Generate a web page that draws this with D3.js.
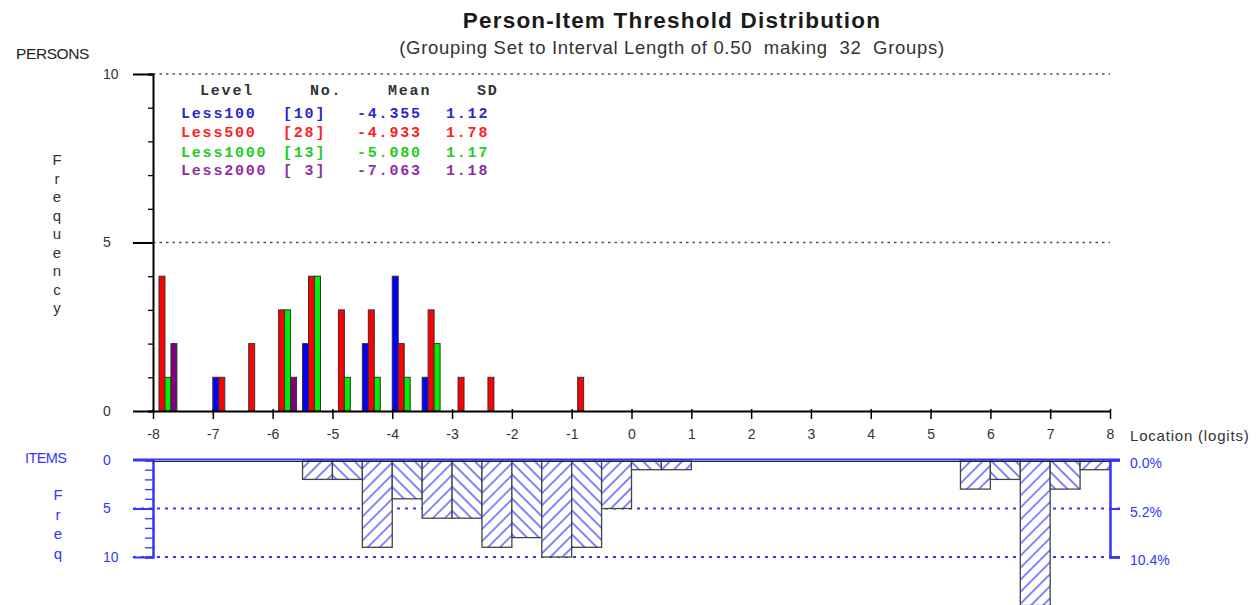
<!DOCTYPE html>
<html>
<head>
<meta charset="utf-8">
<script src="https://cdn.jsdelivr.net/npm/d3@7/dist/d3.min.js"></script>
<style>
    body { margin: 0; background: #fff; }
    svg { display: block; font-family: "Liberation Sans", Arial, sans-serif; }
</style>
</head>
<body>
<svg id="chart" width="1256" height="605"></svg>
<script>
// --- Data ---
const binStarts = d3.range(-8, 8, 0.5);   // 32 groups, interval length 0.50
const xTickValues = d3.range(-8, 9);

const less100  = [0,0,1,0,0,2,0,2,4,1,0,0,0,0,0,0, 0,0,0,0,0,0,0,0,0,0,0,0,0,0,0,0];
const less500  = [4,0,1,2,3,4,3,3,2,3,1,1,0,0,1,0, 0,0,0,0,0,0,0,0,0,0,0,0,0,0,0,0];
const less1000 = [1,0,0,0,3,4,1,1,1,2,0,0,0,0,0,0, 0,0,0,0,0,0,0,0,0,0,0,0,0,0,0,0];
const less2000 = [2,0,0,0,1,0,0,0,0,0,0,0,0,0,0,0, 0,0,0,0,0,0,0,0,0,0,0,0,0,0,0,0];
const items    = [0,0,0,0,0,2,2,9,4,6,6,9,8,10,9,5, 1,1,0,0,0,0,0,0,0,0,0,3,2,15,3,1];

const levels = ['Less100', 'Less500', 'Less1000', 'Less2000'];
const levelCounts = [10, 28, 13, 3];
const levelMeans = ['-4.355', '-4.933', '-5.080', '-7.063'];
const levelSDs = ['1.12', '1.78', '1.17', '1.18'];

const personSeries = [less100, less500, less1000, less2000];
const barColors = ['#0000ff', '#ff0000', '#00ee00', '#800080'];
const textColors = ['#2a2ac8', '#ff2020', '#22cc22', '#8f2f9f'];
const itemBlue = '#3535ff';

const svg = d3.select('#chart');

// --- Scales ---
const x = d3.scaleLinear().domain([-8, 8]).range([153, 1110]);
const yTop = d3.scaleLinear().domain([0, 10]).range([411, 74]);
const yBot = d3.scaleLinear().domain([0, 10]).range([460, 557]);
const subW = x(-7.9) - x(-8);

// --- Hatch patterns ---
const defs = svg.append('defs');
[['hatchA', 45], ['hatchB', -45]].forEach(([id, angle]) => {
    const p = defs.append('pattern')
        .attr('id', id)
        .attr('patternUnits', 'userSpaceOnUse')
        .attr('width', 8.5).attr('height', 8.5)
        .attr('patternTransform', `rotate(${angle})`);
    p.append('rect').attr('width', 8.5).attr('height', 8.5).attr('fill', '#fff');
    p.append('line').attr('x1', 1).attr('y1', 0).attr('x2', 1).attr('y2', 8.5)
        .attr('stroke', '#4545ff').attr('stroke-width', 1.3);
});

// --- Titles ---
svg.append('text')
    .attr('x', 672).attr('y', 28)
    .attr('text-anchor', 'middle')
    .attr('font-size', 22.5).attr('font-weight', 'bold')
    .attr('letter-spacing', 1.2)
    .attr('fill', '#1a1a1a')
    .text('Person-Item Threshold Distribution');

svg.append('text')
    .attr('x', 672).attr('y', 54)
    .attr('text-anchor', 'middle')
    .attr('font-size', 18.5).attr('letter-spacing', 0.7)
    .attr('fill', '#333')
    .attr('xml:space', 'preserve')
    .text('(Grouping Set to Interval Length of 0.50  making  32  Groups)');

svg.append('text')
    .attr('x', 16).attr('y', 59)
    .attr('font-size', 15.5).attr('letter-spacing', -0.4)
    .attr('fill', '#222')
    .text('PERSONS');

// vertical "Frequency"
svg.append('g').selectAll('text')
    .data('Frequency'.split(''))
    .enter().append('text')
    .attr('x', 57)
    .attr('y', (d, i) => 165 + i * 18.5)
    .attr('text-anchor', 'middle')
    .attr('font-size', 15)
    .attr('fill', '#333')
    .text(d => d);

// --- Upper gridlines (dotted) ---
svg.append('g').selectAll('line')
    .data([5, 10])
    .enter().append('line')
    .attr('x1', x(-8)).attr('x2', x(8))
    .attr('y1', d => yTop(d)).attr('y2', d => yTop(d))
    .attr('stroke', '#555').attr('stroke-width', 1.6)
    .attr('stroke-dasharray', '2.5,4');

// --- Person bars ---
const barsG = svg.append('g');
personSeries.forEach((series, si) => {
    barsG.selectAll(`.pbar-${si}`)
        .data(series.map((v, i) => ({ start: binStarts[i], v })).filter(d => d.v > 0))
        .enter().append('rect')
        .attr('class', `pbar-${si}`)
        .attr('x', d => x(d.start) + si * subW)
        .attr('y', d => yTop(d.v))
        .attr('width', subW)
        .attr('height', d => yTop(0) - yTop(d.v))
        .attr('fill', barColors[si])
        .attr('stroke', '#333').attr('stroke-width', 1);
});

// --- Upper left axis ---
const yTopMinor = svg.append('g')
    .attr('transform', `translate(${x(-8)},0)`)
    .call(d3.axisLeft(yTop).tickValues(d3.range(0, 11)).tickSize(5).tickFormat(''));
yTopMinor.select('.domain').attr('stroke', '#000').attr('stroke-width', 2);
yTopMinor.selectAll('.tick line').attr('stroke', '#000').attr('stroke-width', 1.3);

const yTopMajor = svg.append('g')
    .attr('transform', `translate(${x(-8)},0)`)
    .call(d3.axisLeft(yTop).tickValues([0, 5, 10]).tickSize(20).tickPadding(22));
yTopMajor.select('.domain').remove();
yTopMajor.selectAll('.tick line').attr('stroke', '#000').attr('stroke-width', 2);
yTopMajor.selectAll('.tick text')
    .attr('text-anchor', 'start').attr('x', -50)
    .attr('font-size', 14).attr('fill', '#333');

// --- X axis ---
const xAxisG = svg.append('g')
    .attr('transform', `translate(0,${yTop(0)})`)
    .call(d3.axisBottom(x).tickValues(xTickValues).tickSize(8).tickPadding(10)
        .tickSizeOuter(0).tickFormat(d => String(d)));
xAxisG.select('.domain').attr('stroke', '#000').attr('stroke-width', 2);
xAxisG.selectAll('.tick line').attr('stroke', '#000').attr('stroke-width', 1.5).attr('y1', -2);
xAxisG.selectAll('.tick text').attr('font-size', 14).attr('fill', '#333');

svg.append('text')
    .attr('x', 1130).attr('y', 441)
    .attr('font-size', 15).attr('letter-spacing', 0.8)
    .attr('fill', '#333')
    .text('Location (logits)');

// --- Legend ---
const legend = svg.append('g')
    .attr('font-family', '"Liberation Mono", "Courier New", monospace')
    .attr('font-size', 15).attr('font-weight', 'bold')
    .attr('letter-spacing', 1.8);
const legendCols = [
    { x: 181, head: 'Level', hx: 200, vals: levels },
    { x: 283, head: 'No.', hx: 310, vals: levelCounts.map(c => `[${String(c).padStart(2, ' ')}]`) },
    { x: 357, head: 'Mean', hx: 388, vals: levelMeans },
    { x: 446, head: 'SD', hx: 477, vals: levelSDs }
];
const rowY = [118, 137, 157, 175];
legendCols.forEach(col => {
    legend.append('text')
        .attr('x', col.hx).attr('y', 95)
        .attr('fill', '#333')
        .text(col.head);
    legend.selectAll(null)
        .data(col.vals)
        .enter().append('text')
        .attr('xml:space', 'preserve')
        .attr('x', col.x)
        .attr('y', (d, i) => rowY[i])
        .attr('fill', (d, i) => textColors[i])
        .text(d => d);
});

// --- Lower (items) panel ---
svg.append('text')
    .attr('x', 25).attr('y', 463)
    .attr('font-size', 14.5).attr('letter-spacing', -0.6)
    .attr('fill', itemBlue)
    .text('ITEMS');

svg.append('g').selectAll('text')
    .data('Freq'.split(''))
    .enter().append('text')
    .attr('x', 58)
    .attr('y', (d, i) => 500 + i * 19.5)
    .attr('text-anchor', 'middle')
    .attr('font-size', 15)
    .attr('fill', itemBlue)
    .text(d => d);

// dotted gridlines
svg.append('g').selectAll('line')
    .data([5, 10])
    .enter().append('line')
    .attr('x1', 133).attr('x2', 1120)
    .attr('y1', d => yBot(d)).attr('y2', d => yBot(d))
    .attr('stroke', itemBlue).attr('stroke-width', 1.8)
    .attr('stroke-dasharray', '3,5');

// item bars
svg.append('g').selectAll('rect')
    .data(items.map((v, i) => ({ start: binStarts[i], v, i })).filter(d => d.v > 0))
    .enter().append('rect')
    .attr('x', d => x(d.start))
    .attr('y', yBot(0))
    .attr('width', d => x(d.start + 0.5) - x(d.start))
    .attr('height', d => yBot(d.v) - yBot(0))
    .attr('fill', d => d.i % 2 ? 'url(#hatchA)' : 'url(#hatchB)')
    .attr('stroke', '#444').attr('stroke-width', 1.3);

// lower left axis
const yBotMinor = svg.append('g')
    .attr('transform', `translate(${x(-8)},0)`)
    .call(d3.axisLeft(yBot).tickValues(d3.range(0, 11)).tickSize(8).tickFormat(''));
yBotMinor.select('.domain').attr('stroke', itemBlue).attr('stroke-width', 2.5);
yBotMinor.selectAll('.tick line').attr('stroke', itemBlue).attr('stroke-width', 1.3);

const yBotMajor = svg.append('g')
    .attr('transform', `translate(${x(-8)},0)`)
    .call(d3.axisLeft(yBot).tickValues([0, 5, 10]).tickSize(20).tickPadding(22));
yBotMajor.select('.domain').remove();
yBotMajor.selectAll('.tick line').attr('stroke', itemBlue).attr('stroke-width', 2);
yBotMajor.selectAll('.tick text')
    .attr('text-anchor', 'start').attr('x', -50)
    .attr('font-size', 14).attr('fill', itemBlue);

// lower right axis (percent of items)
const itemTotal = d3.sum(items);
const yBotRight = svg.append('g')
    .attr('transform', `translate(${x(8)},0)`)
    .call(d3.axisRight(yBot).tickValues([0, 5, 10]).tickSize(10).tickPadding(10)
        .tickFormat(d => (d / itemTotal * 100).toFixed(1) + '%'));
yBotRight.select('.domain').attr('stroke', itemBlue).attr('stroke-width', 2.5);
yBotRight.selectAll('.tick line').attr('stroke', itemBlue).attr('stroke-width', 2);
yBotRight.selectAll('.tick text')
    .attr('dy', '0.55em')
    .attr('font-size', 14).attr('fill', itemBlue);

// top line of the items panel
svg.append('line')
    .attr('x1', x(-8)).attr('x2', x(8))
    .attr('y1', yBot(0) + 1.5).attr('y2', yBot(0) + 1.5)
    .attr('stroke', '#222').attr('stroke-width', 1.2);
svg.append('line')
    .attr('x1', 133).attr('x2', 1120)
    .attr('y1', yBot(0) - 0.5).attr('y2', yBot(0) - 0.5)
    .attr('stroke', itemBlue).attr('stroke-width', 2.2);
</script>
</body>
</html>
